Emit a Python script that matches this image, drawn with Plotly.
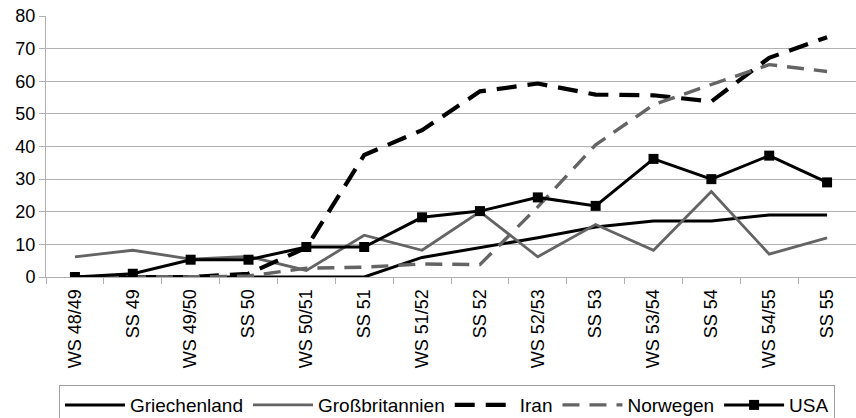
import plotly.graph_objects as go

categories = ["WS 48/49", "SS 49", "WS 49/50", "SS 50", "WS 50/51", "SS 51",
              "WS 51/52", "SS 52", "WS 52/53", "SS 53", "WS 53/54", "SS 54",
              "WS 54/55", "SS 55"]

griechenland = [0, 0, 0, 0, 0, 0, 6, 9, 12, 15.3, 17.2, 17.2, 19, 19]
grossbritannien = [6.2, 8.2, 5.5, 6.3, 2, 12.8, 8.2, 20, 6.2, 16.1, 8.2, 26.2, 7, 12]
iran = [0, 0, 0, 1, 9, 37.4, 45, 56.9, 59.3, 55.9, 55.7, 53.8, 67.2, 73.5]
norwegen = [0, 0, 0, 0.3, 2.7, 3, 4, 3.8, 21.5, 40.5, 52.8, 59, 65.1, 63]
usa = [0, 1, 5.3, 5.3, 9.2, 9.2, 18.3, 20.2, 24.4, 21.8, 36.2, 30, 37.2, 29]

GRAY = "#646464"
FONT = "Liberation Sans, Arial, sans-serif"

fig = go.Figure()
fig.add_trace(go.Scatter(x=categories, y=griechenland, name="Griechenland", mode="lines",
                         line=dict(color="black", width=3)))
fig.add_trace(go.Scatter(x=categories, y=grossbritannien, name="Großbritannien", mode="lines",
                         line=dict(color=GRAY, width=2.8)))
fig.add_trace(go.Scatter(x=categories, y=iran, name="Iran", mode="lines",
                         line=dict(color="black", width=4.2, dash="20px,11px")))
fig.add_trace(go.Scatter(x=categories, y=norwegen, name="Norwegen", mode="lines",
                         line=dict(color=GRAY, width=3.4, dash="17px,10px")))
fig.add_trace(go.Scatter(x=categories, y=usa, name="USA", mode="lines+markers",
                         line=dict(color="black", width=3),
                         marker=dict(symbol="square", size=10, color="black")))

fig.update_layout(
    width=856, height=418,
    margin=dict(l=46, r=0, t=16, b=141, autoexpand=False),
    paper_bgcolor="white", plot_bgcolor="white",
    font=dict(family=FONT, size=18, color="black"),
    showlegend=True,
    legend=dict(orientation="h", x=0.016, xanchor="left", y=-0.414, yanchor="top",
                bordercolor="#a0a0a0", borderwidth=1, font=dict(size=19, family=FONT),
                itemwidth=60, tracegroupgap=0),
)
fig.update_xaxes(type="category", range=[-0.5, 13.5], tickangle=-90,
                 tickson="boundaries", ticks="outside", ticklen=6, tickcolor="#b0b0b0",
                 ticklabelstandoff=4,
                 showline=True, linecolor="#b0b0b0", linewidth=1, showgrid=False,
                 tickfont=dict(size=18, family=FONT))
fig.update_yaxes(range=[0, 80], dtick=10, ticks="outside", ticklen=6, tickcolor="#b0b0b0",
                 showline=True, linecolor="#b0b0b0", linewidth=1,
                 showgrid=True, gridcolor="#b0b0b0", gridwidth=1, zeroline=False,
                 tickfont=dict(size=18, family=FONT))

fig.write_html("out.html")
